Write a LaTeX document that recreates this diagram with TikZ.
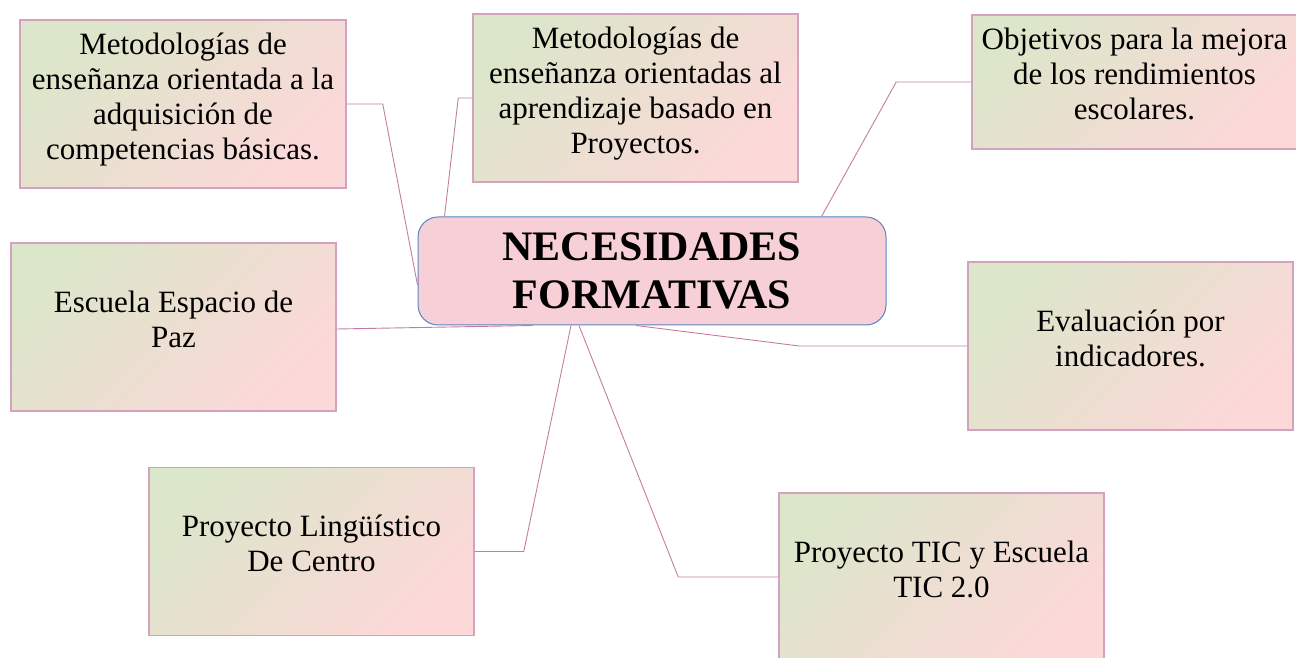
\documentclass[tikz,border=0pt]{standalone}
\usepackage{fontspec}
\setmainfont{Liberation Serif}
\usepackage{tikz}
\definecolor{boxgreen}{HTML}{DCE6CA}
\definecolor{boxpink}{HTML}{FCD8D8}
\definecolor{boxline}{HTML}{D2A2BE}
\definecolor{linkline}{HTML}{C47CA2}
\definecolor{mainfill}{HTML}{F7CFD6}
\definecolor{mainline}{HTML}{5A84C2}
\tikzstyle{topic} = [rectangle, 
minimum width=325pt, 
minimum height=168pt, 
inner xsep=3pt,
text depth=16pt, % lifts the text a little
align=center, 
font=\fontsize{31}{35}\selectfont,
draw=boxline, 
line width=1.5pt,
top color=boxgreen, 
bottom color=boxpink,
shading angle=45]
\tikzstyle{central} = [rectangle, rounded corners=20pt, 
minimum width=468pt, 
minimum height=108pt,
align=center, 
font=\fontsize{42}{48}\selectfont\bfseries,
draw=mainline, 
line width=1pt,
fill=mainfill]
\tikzstyle{link} = [draw=linkline, line width=0.9pt]

\begin{document}
\begin{tikzpicture}[x=1pt, y=1pt]
		\useasboundingbox (0,0) rectangle (1296,657);
		\node (centro) [central] at (652,386) {NECESIDADES\\ FORMATIVAS};
		\node (meto1) [topic, minimum width=326pt] at (183,553) {Metodologías de\\ enseñanza orientada a la\\ adquisición de\\ competencias básicas.};
		\node (meto2) [topic] at (635.5,559) {Metodologías de\\ enseñanza orientadas al\\ aprendizaje basado en\\ Proyectos.};
		\node (obj) [topic, minimum height=134pt] at (1134.5,575) {Objetivos para la mejora\\ de los rendimientos\\ escolares.};
		\node (esc) [topic] at (173.5,330) {Escuela Espacio de\\ Paz};
		\node (eval) [topic] at (1130.5,311) {Evaluación por\\ indicadores.};
		\node (ling) [topic] at (311.5,105.5) {Proyecto Lingüístico\\ De Centro};
		\node (tic) [topic] at (941.5,80) {Proyecto TIC y Escuela\\ TIC 2.0};
	
		\draw [link] (meto1.east) -- ++(36,0) -- ([yshift=-14pt]centro.west);
		\draw [link] (meto2.west) -- ++(-14,0) -- ([xshift=27pt]centro.north west);
		\draw [link] (obj.west) -- ++(-75,0) -- ([xshift=-65pt]centro.north east);
		\draw [link] ([yshift=-2pt]esc.east) -- ([xshift=115pt]centro.south west);
		\draw [link] (eval.west) -- ++(-168,0) -- ([xshift=-16pt]centro.south);
		\draw [link] (ling.east) -- ++(49,0) -- ([xshift=-81pt]centro.south);
		\draw [link] (tic.west) -- ++(-100,0) -- ([xshift=-73pt]centro.south);
	\end{tikzpicture}
\end{document}
